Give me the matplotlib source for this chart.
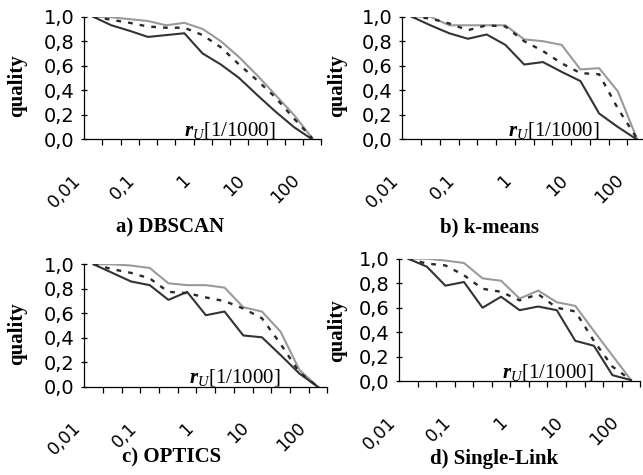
import matplotlib
matplotlib.use("Agg")
import matplotlib.pyplot as plt
from matplotlib.transforms import ScaledTranslation

plt.rcParams["mathtext.fontset"] = "custom"
plt.rcParams["mathtext.rm"] = "Liberation Serif"
plt.rcParams["mathtext.it"] = "Liberation Serif:italic"
plt.rcParams["mathtext.bfit"] = "Liberation Serif:italic:bold"

# r_U categories (every third one labelled)
r_u = [0.01, 0.02, 0.05, 0.1, 0.2, 0.5, 1, 2, 5, 10, 20, 50, 100]
x_labels = ["0,01", "0,1", "1", "10", "100"]
x_label_idx = [0, 3, 6, 9, 12]
y_ticks = [0.0, 0.2, 0.4, 0.6, 0.8, 1.0]
y_labels = ["0,0", "0,2", "0,4", "0,6", "0,8", "1,0"]

dbscan_max = [1.0, 0.995, 0.98, 0.965, 0.93, 0.95, 0.90, 0.80, 0.67, 0.52, 0.36, 0.20, 0.01]
dbscan_avg = [1.0, 0.975, 0.95, 0.92, 0.91, 0.91, 0.85, 0.75, 0.61, 0.48, 0.34, 0.17, 0.01]
dbscan_min = [1.0, 0.93, 0.885, 0.835, 0.85, 0.865, 0.70, 0.61, 0.50, 0.36, 0.225, 0.10, 0.0]

kmeans_max = [1.0, 1.0, 0.93, 0.93, 0.93, 0.93, 0.815, 0.80, 0.77, 0.57, 0.58, 0.39, 0.01]
kmeans_avg = [1.0, 0.985, 0.945, 0.89, 0.93, 0.92, 0.80, 0.72, 0.62, 0.54, 0.53, 0.25, 0.01]
kmeans_min = [1.0, 0.93, 0.865, 0.82, 0.855, 0.77, 0.61, 0.63, 0.55, 0.475, 0.21, 0.10, 0.0]

optics_max = [1.0, 1.0, 0.99, 0.97, 0.845, 0.83, 0.83, 0.81, 0.65, 0.615, 0.45, 0.14, 0.0]
optics_avg = [1.0, 0.96, 0.93, 0.885, 0.775, 0.765, 0.73, 0.70, 0.64, 0.56, 0.35, 0.12, 0.0]
optics_min = [1.0, 0.93, 0.86, 0.83, 0.71, 0.775, 0.585, 0.615, 0.42, 0.405, 0.26, 0.11, 0.0]

slink_max = [1.0, 1.0, 0.985, 0.965, 0.84, 0.82, 0.675, 0.74, 0.645, 0.615, 0.41, 0.21, 0.01]
slink_avg = [1.0, 0.96, 0.945, 0.865, 0.755, 0.73, 0.66, 0.71, 0.60, 0.57, 0.33, 0.12, 0.01]
slink_min = [1.0, 0.935, 0.78, 0.81, 0.60, 0.69, 0.58, 0.61, 0.58, 0.33, 0.29, 0.05, 0.01]

titles = ["a) DBSCAN", "b) k-means", "c) OPTICS", "d) Single-Link"]
series = [(dbscan_max, dbscan_avg, dbscan_min),
          (kmeans_max, kmeans_avg, kmeans_min),
          (optics_max, optics_avg, optics_min),
          (slink_max, slink_avg, slink_min)]

# panel placement in pixels: left, y(1.0), y(0.0), category width
boxes = [(84, 16.7, 139.3, 18.25),
         (402.3, 16.7, 139.3, 18.75),
         (84.3, 264.3, 387.0, 18.7),
         (399, 258.7, 381.3, 18.56)]
title_pos = [(170, 227), (490, 227), (172, 457), (494, 459)]
ylab_pos = [(17, 86), (337, 86), (17, 334), (337, 331)]

W, H = 643, 475
fig = plt.figure(figsize=(W / 100, H / 100), dpi=100)
n = len(r_u)
x = list(range(n))
shift = ScaledTranslation(-0.09, 0, fig.dpi_scale_trans)

for k in range(4):
    left, top, bottom, step = boxes[k]
    ax = fig.add_axes([left / W, 1 - bottom / H, n * step / W, (bottom - top) / H])
    hi, mid, lo = series[k]
    ax.plot(x, hi, color="#9a9a9a", lw=1.5)
    ax.plot(x, lo, color="#333333", lw=1.5)
    ax.plot(x, mid, color="#2a2a2a", lw=1.7, linestyle=(0, (2.0, 3.0)))
    ax.set_xlim(-0.5, n - 0.5)
    ax.set_ylim(0, 1)
    for s in ["top", "right"]:
        ax.spines[s].set_visible(False)
    ax.spines["left"].set_linewidth(0.9)
    ax.spines["bottom"].set_linewidth(0.9)

    ax.set_xticks([i + 0.5 for i in range(n)])
    ax.set_xticklabels([])
    ax.tick_params(axis="x", which="major", direction="out", length=4, width=0.9)
    ax.set_xticks(x_label_idx, minor=True)
    ax.set_xticklabels(x_labels, minor=True, rotation=45, ha="right", va="top",
                       fontsize=12.5, family="DejaVu Sans")
    ax.tick_params(axis="x", which="minor", length=0, pad=23)
    for lab in ax.get_xticklabels(minor=True):
        lab.set_transform(lab.get_transform() + shift)

    ax.set_yticks(y_ticks)
    ax.set_yticklabels(y_labels, fontsize=14, family="DejaVu Sans")
    ax.tick_params(axis="y", direction="inout", length=4, width=0.9, pad=5)

    ax.text(10.0, 0.035, r"$\mathbfit{r}_{U}$[1/1000]", ha="right", va="baseline",
            fontsize=15, family="Liberation Serif")

    fig.text(title_pos[k][0] / W, 1 - title_pos[k][1] / H, titles[k], ha="center", va="center",
             fontsize=15, family="Liberation Serif", weight="bold")
    fig.text(ylab_pos[k][0] / W, 1 - ylab_pos[k][1] / H, "quality", rotation=90, ha="center",
             va="center", fontsize=15, family="Liberation Serif", weight="bold")

fig.savefig("out.png", dpi=100)
